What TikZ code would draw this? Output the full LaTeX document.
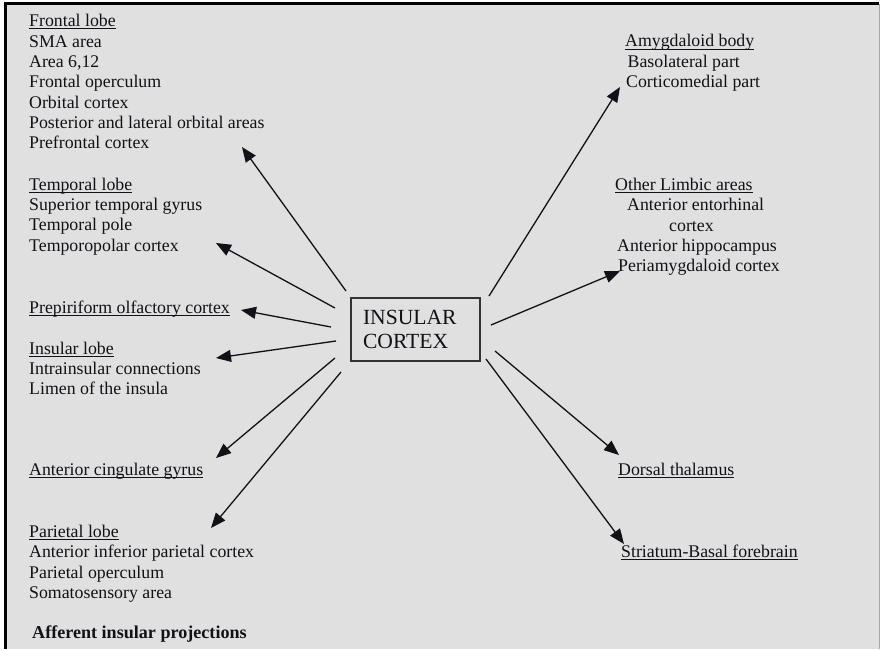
\documentclass[tikz,border=0pt]{standalone}
\usepackage{fontspec}
\setmainfont{Liberation Serif}
\usetikzlibrary{arrows.meta}
\definecolor{bg}{HTML}{E0E0E0}
\definecolor{ink}{HTML}{111118}
\newcommand{\myul}[1]{\setbox0\hbox{#1}\rlap{\rule[-2.8pt]{\wd0}{1pt}}\box0}
\begin{document}
\begin{tikzpicture}[x=1pt,y=-1pt,
  lbl/.style={anchor=base west, inner sep=0pt, font=\fontsize{17.8}{20.3}\selectfont, text=ink},
  capt/.style={lbl, font=\fontsize{18.1}{20.3}\selectfont\bfseries},
  arr/.style={line width=1.3pt, draw=ink, -{Triangle[length=15pt,width=12pt]}},
  mainbox/.style={draw=black!80, line width=1.8pt, minimum width=129pt, minimum height=63pt,
    text width=105pt, align=left, inner sep=0pt, font=\fontsize{21.6}{24}\selectfont, text=ink}
]
\useasboundingbox (0,0) rectangle (880,649);
\fill[white] (0,0) rectangle (880,649);
\fill[bg] (5.5,4) rectangle (879,649);
\draw[black, line width=3pt] (5.5,649) -- (5.5,3.5) -- (879,3.5);
\draw[black!35, line width=0.8pt] (879,3.5) -- (879,649);

% central box
\node[mainbox] (ic) at (415.5,329.5) {INSULAR\\CORTEX};

% left column
\node[lbl] (fl0) at (29,26.5) {\myul{Frontal lobe}};
\node[lbl] (fl1) at (29,47) {SMA area};
\node[lbl] (fl2) at (29,67.3) {Area 6,12};
\node[lbl] (fl3) at (29,87.6) {Frontal operculum};
\node[lbl] (fl4) at (29,108) {Orbital cortex};
\node[lbl] (fl5) at (29,128.3) {Posterior and lateral orbital areas};
\node[lbl] (fl6) at (29,148.6) {Prefrontal cortex};

\node[lbl] (tl0) at (29,190) {\myul{Temporal lobe}};
\node[lbl] (tl1) at (29,210.3) {Superior temporal gyrus};
\node[lbl] (tl2) at (29,230.6) {Temporal pole};
\node[lbl] (tl3) at (29,251) {Temporopolar cortex};

\node[lbl] (pp) at (29,313) {\myul{Prepiriform olfactory cortex}};

\node[lbl] (il0) at (29,354) {\myul{Insular lobe}};
\node[lbl] (il1) at (29,374.3) {Intrainsular connections};
\node[lbl] (il2) at (29,394.6) {Limen of the insula};

\node[lbl] (ac) at (29,475) {\myul{Anterior cingulate gyrus}};

\node[lbl] (pl0) at (29,537) {\myul{Parietal lobe}};
\node[lbl] (pl1) at (29,557.5) {Anterior inferior parietal cortex};
\node[lbl] (pl2) at (29,578) {Parietal operculum};
\node[lbl] (pl3) at (29,598.5) {Somatosensory area};

\node[capt] (cap) at (32,638.5) {Afferent insular projections};

% right column
\node[lbl] (am0) at (625,46.7) {\myul{Amygdaloid body}};
\node[lbl] (am1) at (627.5,67) {Basolateral part};
\node[lbl] (am2) at (626,87.5) {Corticomedial part};

\node[lbl] (ol0) at (615,190) {\myul{Other Limbic areas}};
\node[lbl] (ol1) at (627,210.5) {Anterior entorhinal};
\node[lbl] (ol2) at (669,231) {cortex};
\node[lbl] (ol3) at (617,251.3) {Anterior hippocampus};
\node[lbl] (ol4) at (618,271.8) {Periamygdaloid cortex};

\node[lbl] (dt) at (618,475) {\myul{Dorsal thalamus}};
\node[lbl] (sb) at (621,557) {\myul{Striatum-Basal forebrain}};

% connector ends
\coordinate (s1) at (346,291);  \coordinate (e1) at (242,147);
\coordinate (s2) at (335,308);  \coordinate (e2) at (216,243);
\coordinate (s3) at (331,327);  \coordinate (e3) at (241,310);
\coordinate (s4) at (336,341);  \coordinate (e4) at (216,358);
\coordinate (s5) at (335,358);  \coordinate (e5) at (216,458);
\coordinate (s6) at (341,372);  \coordinate (e6) at (211,528);
\coordinate (s7) at (489,296);  \coordinate (e7) at (620,87);
\coordinate (s8) at (491,325);  \coordinate (e8) at (620,271);
\coordinate (s9) at (495,351);  \coordinate (e9) at (619,455);
\coordinate (s10) at (486,359); \coordinate (e10) at (624,544);

\foreach \i in {1,...,10} { \draw[arr] (s\i) -- (e\i); }
\end{tikzpicture}
\end{document}
